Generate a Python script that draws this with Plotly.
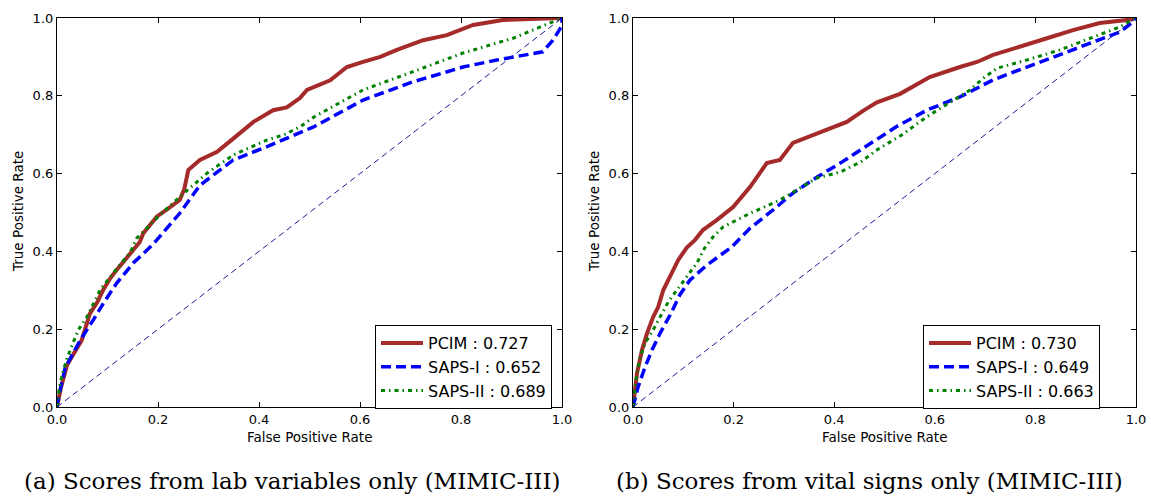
import plotly.graph_objects as go

# ---------------- data ----------------
# (a) lab variables only
lab_pcim_fpr = [0, 0.008, 0.02, 0.035, 0.049, 0.065, 0.08, 0.091, 0.105, 0.118, 0.141, 0.164, 0.171, 0.198, 0.22, 0.243, 0.252, 0.26, 0.283, 0.317, 0.349, 0.389, 0.428, 0.455, 0.481, 0.495, 0.541, 0.574, 0.606, 0.64, 0.673, 0.725, 0.772, 0.824, 0.883, 0.937, 1.0]
lab_pcim_tpr = [0, 0.051, 0.108, 0.14, 0.172, 0.24, 0.27, 0.30, 0.33, 0.352, 0.39, 0.424, 0.447, 0.49, 0.51, 0.532, 0.56, 0.609, 0.635, 0.656, 0.69, 0.733, 0.763, 0.77, 0.794, 0.815, 0.84, 0.874, 0.887, 0.90, 0.918, 0.943, 0.956, 0.982, 0.995, 0.997, 1.0]
lab_saps1_fpr = [0, 0.003, 0.016, 0.046, 0.072, 0.092, 0.118, 0.151, 0.19, 0.243, 0.283, 0.349, 0.415, 0.481, 0.508, 0.606, 0.705, 0.804, 0.871, 0.962, 0.982, 1.0, 1.0]
lab_saps1_tpr = [0, 0.025, 0.1, 0.172, 0.224, 0.267, 0.318, 0.37, 0.418, 0.498, 0.57, 0.635, 0.669, 0.704, 0.72, 0.789, 0.836, 0.874, 0.892, 0.913, 0.943, 0.98, 1.0]
lab_saps2_fpr = [0, 0.004, 0.01, 0.02, 0.03, 0.042, 0.059, 0.085, 0.105, 0.145, 0.158, 0.204, 0.243, 0.297, 0.349, 0.415, 0.45, 0.481, 0.508, 0.606, 0.705, 0.804, 0.903, 0.95, 0.982, 1.0]
lab_saps2_tpr = [0, 0.044, 0.082, 0.126, 0.159, 0.198, 0.231, 0.3, 0.334, 0.398, 0.434, 0.494, 0.54, 0.601, 0.648, 0.686, 0.70, 0.72, 0.745, 0.815, 0.862, 0.91, 0.948, 0.974, 0.99, 1.0]
lab_auc = {"PCIM": "0.727", "SAPS-I": "0.652", "SAPS-II": "0.689"}

# (b) vital signs only
vit_pcim_fpr = [0, 0.004, 0.008, 0.018, 0.028, 0.04, 0.05, 0.06, 0.074, 0.09, 0.107, 0.123, 0.139, 0.167, 0.199, 0.233, 0.266, 0.292, 0.318, 0.358, 0.398, 0.425, 0.458, 0.485, 0.531, 0.551, 0.59, 0.65, 0.684, 0.716, 0.769, 0.823, 0.875, 0.928, 0.982, 1.0]
vit_pcim_tpr = [0, 0.04, 0.087, 0.147, 0.19, 0.231, 0.257, 0.30, 0.334, 0.378, 0.41, 0.429, 0.455, 0.481, 0.514, 0.566, 0.627, 0.635, 0.679, 0.699, 0.717, 0.733, 0.762, 0.783, 0.805, 0.82, 0.848, 0.874, 0.887, 0.905, 0.925, 0.948, 0.969, 0.987, 0.995, 1.0]
vit_saps1_fpr = [0, 0.01, 0.024, 0.038, 0.054, 0.074, 0.093, 0.113, 0.147, 0.196, 0.233, 0.278, 0.318, 0.366, 0.412, 0.458, 0.524, 0.584, 0.65, 0.716, 0.783, 0.849, 0.915, 0.968, 0.994, 1.0]
vit_saps1_tpr = [0, 0.051, 0.103, 0.147, 0.19, 0.237, 0.288, 0.326, 0.365, 0.411, 0.46, 0.506, 0.55, 0.591, 0.627, 0.665, 0.721, 0.763, 0.797, 0.841, 0.874, 0.905, 0.938, 0.964, 0.99, 1.0]
vit_saps2_fpr = [0, 0.004, 0.008, 0.014, 0.024, 0.04, 0.054, 0.07, 0.087, 0.107, 0.127, 0.143, 0.159, 0.179, 0.233, 0.292, 0.332, 0.366, 0.412, 0.454, 0.485, 0.534, 0.584, 0.616, 0.644, 0.67, 0.696, 0.724, 0.783, 0.849, 0.915, 0.968, 0.988, 1.0]
vit_saps2_tpr = [0, 0.051, 0.087, 0.126, 0.164, 0.198, 0.231, 0.27, 0.3, 0.334, 0.37, 0.41, 0.437, 0.463, 0.498, 0.532, 0.563, 0.589, 0.604, 0.631, 0.661, 0.699, 0.746, 0.771, 0.794, 0.815, 0.845, 0.871, 0.892, 0.918, 0.951, 0.977, 0.992, 1.0]
vit_auc = {"PCIM": "0.730", "SAPS-I": "0.649", "SAPS-II": "0.663"}

chance = [0, 1]
tick_vals = [0.0, 0.2, 0.4, 0.6, 0.8, 1.0]
tick_text = ["0.0", "0.2", "0.4", "0.6", "0.8", "1.0"]
captions = ["(a) Scores from lab variables only (MIMIC-III)",
            "(b) Scores from vital signs only (MIMIC-III)"]
x_title = "False Positive Rate"
y_title = "True Positive Rate"

# ---------------- styles ----------------
W, H = 1151, 497
FONT = "DejaVu Sans"
styles = {
    "PCIM": dict(color="#A52A2A", width=4, dash="solid"),
    "SAPS-I": dict(color="#0000FF", width=3.5, dash="10px,5px"),
    "SAPS-II": dict(color="#008000", width=3, dash="4px,4px,1.5px,4px"),
}

fig = go.Figure()

panels = [
    ("x", "y", "legend", lab_auc,
     [("PCIM", lab_pcim_fpr, lab_pcim_tpr), ("SAPS-I", lab_saps1_fpr, lab_saps1_tpr), ("SAPS-II", lab_saps2_fpr, lab_saps2_tpr)]),
    ("x2", "y2", "legend2", vit_auc,
     [("PCIM", vit_pcim_fpr, vit_pcim_tpr), ("SAPS-I", vit_saps1_fpr, vit_saps1_tpr), ("SAPS-II", vit_saps2_fpr, vit_saps2_tpr)]),
]

for xa, ya, lg, auc, series in panels:
    for name, fx, ty in series:
        st = styles[name]
        fig.add_trace(go.Scatter(
            x=fx, y=ty, mode="lines", name=f"{name} : {auc[name]}",
            xaxis=xa, yaxis=ya, legend=lg,
            line=dict(color=st["color"], width=st["width"], dash=st["dash"]),
        ))
    fig.add_trace(go.Scatter(
        x=chance, y=chance, mode="lines", xaxis=xa, yaxis=ya, showlegend=False,
        line=dict(color="#1a1a9a", width=1, dash="6px,4px"),
    ))

def px_x(p):
    return p / W

def px_y(p):
    return (H - p) / H

ydom = [px_y(407), px_y(18)]
axis_common = dict(
    range=[0, 1], showgrid=False, zeroline=False, showline=True, linecolor="black",
    linewidth=1.2, mirror="ticks", ticks="inside", ticklen=5, tickwidth=1,
    tickcolor="black", tickvals=tick_vals, ticktext=tick_text, automargin=False,
    tickfont=dict(family=FONT, size=13, color="black"),
)

leg_common = dict(xanchor="left", yanchor="top", bordercolor="black", borderwidth=1,
                   bgcolor="white", font=dict(family=FONT, size=16), tracegroupgap=0,
                   itemwidth=42)

fig.update_layout(
    width=W, height=H, margin=dict(l=0, r=0, t=0, b=0, autoexpand=False),
    paper_bgcolor="white", plot_bgcolor="white",
    font=dict(family=FONT, color="black"),
    xaxis=dict(domain=[px_x(57), px_x(562)], anchor="y", **axis_common),
    yaxis=dict(domain=ydom, anchor="x", **axis_common),
    xaxis2=dict(domain=[px_x(633), px_x(1136)], anchor="y2", **axis_common),
    yaxis2=dict(domain=ydom, anchor="x2", **axis_common),
    legend=dict(x=px_x(375), y=px_y(325), **leg_common),
    legend2=dict(x=px_x(923), y=px_y(325), **leg_common),
    showlegend=True,
)

annots = []
for cx in (309.5, 884.5):
    annots.append(dict(text=x_title, x=px_x(cx), y=px_y(437), xref="paper", yref="paper",
                       showarrow=False, xanchor="center", yanchor="middle",
                       font=dict(family=FONT, size=13.5)))
for cx in (18, 594):
    annots.append(dict(text=y_title, x=px_x(cx), y=px_y(212), xref="paper", yref="paper",
                       showarrow=False, xanchor="center", yanchor="middle", textangle=-90,
                       font=dict(family=FONT, size=13.5)))
for cx, txt in zip((292, 869), captions):
    annots.append(dict(text=txt, x=px_x(cx), y=px_y(481), xref="paper", yref="paper",
                       showarrow=False, xanchor="center", yanchor="middle",
                       font=dict(family="DejaVu Serif", size=23)))
fig.update_layout(annotations=annots)

fig.write_html("out.html", config={"displayModeBar": False},
               post_script="document.body.style.margin='0';")
